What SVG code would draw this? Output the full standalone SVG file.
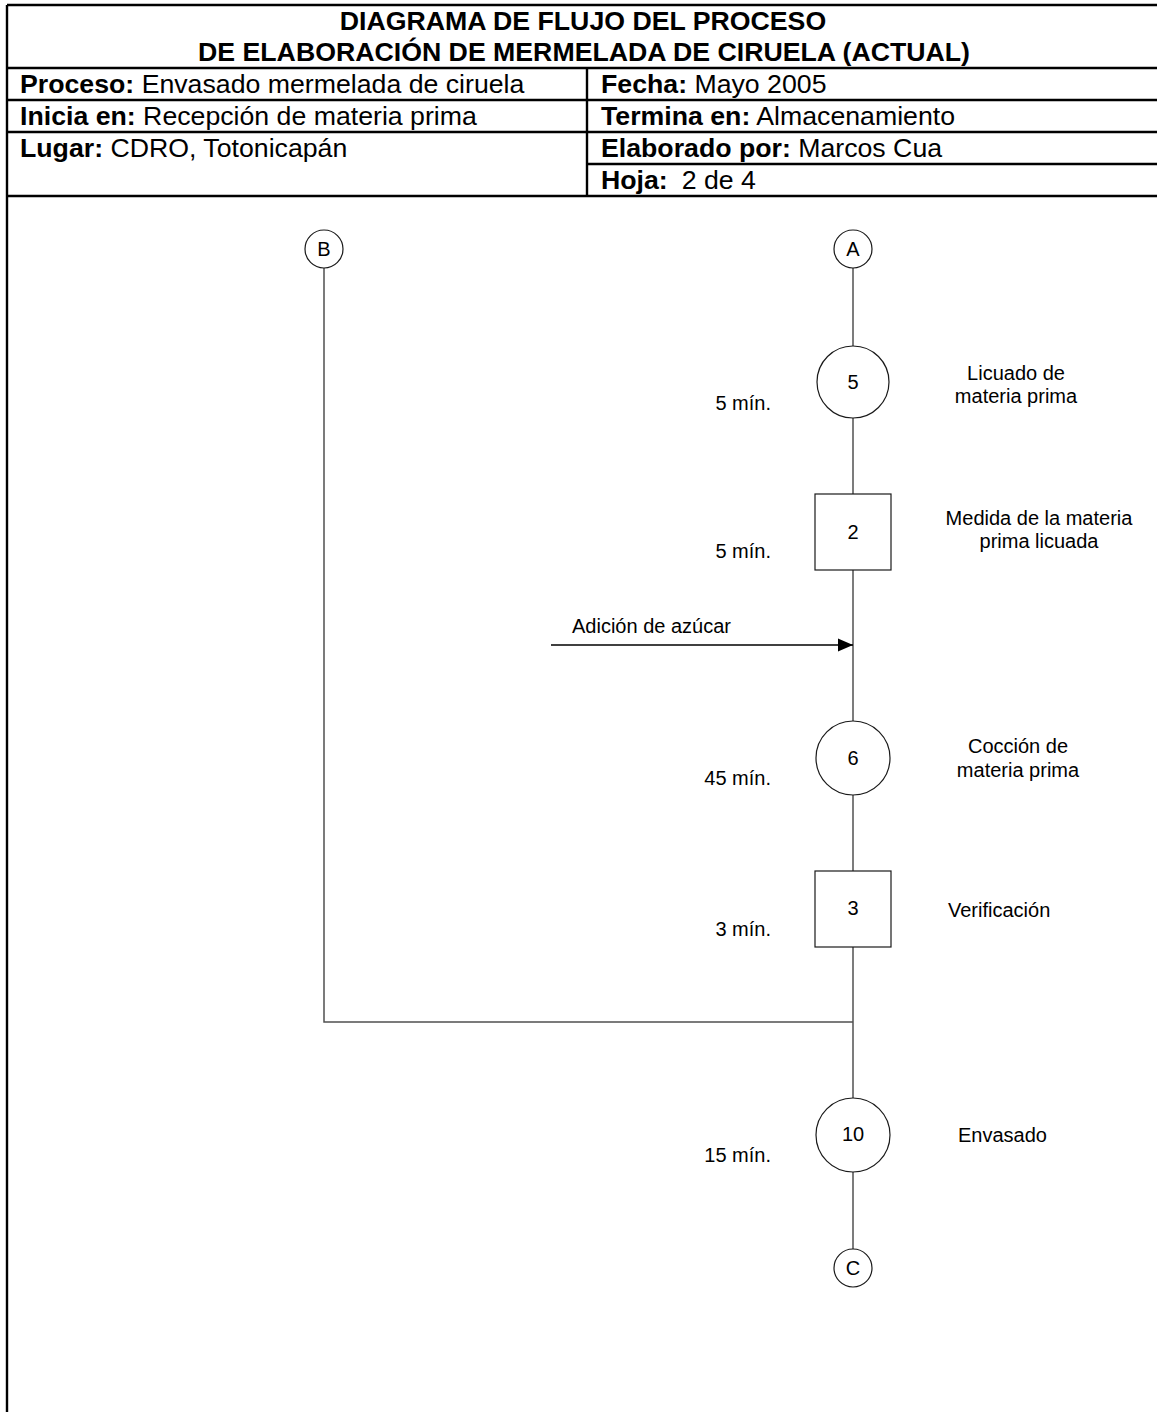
<svg xmlns="http://www.w3.org/2000/svg" width="1157" height="1412" viewBox="0 0 1157 1412">
<style>
.frame{stroke:#000;stroke-width:2.4;fill:none}
.th{font-family:"Liberation Sans",Arial,sans-serif;font-size:26.7px;fill:#000}
.b{font-weight:bold}
.conn{stroke:#505050;stroke-width:1.5;fill:none}
.shape{stroke:#1a1a1a;stroke-width:1.2;fill:#fff}
.lbl{font-family:"Liberation Sans",Arial,sans-serif;font-size:20px;fill:#000}
.num{font-family:"Liberation Sans",Arial,sans-serif;font-size:20px;fill:#000;text-anchor:middle}
.time{font-family:"Liberation Sans",Arial,sans-serif;font-size:20px;fill:#000;text-anchor:end}
.mid{text-anchor:middle}
</style>
<defs>
<marker id="arr" markerWidth="16" markerHeight="14" refX="15" refY="7" orient="auto" markerUnits="userSpaceOnUse">
<path d="M0,0.5 L15,7 L0,13.5 Z" fill="#000"/>
</marker>
</defs>
<rect width="1157" height="1412" fill="#fff"/>
<g id="header">
<line class="frame" x1="7" y1="5" x2="1157" y2="5"/>
<line class="frame" x1="7" y1="5" x2="7" y2="1412"/>
<line class="frame" x1="7" y1="68" x2="1157" y2="68"/>
<line class="frame" x1="7" y1="100" x2="1157" y2="100"/>
<line class="frame" x1="7" y1="132" x2="1157" y2="132"/>
<line class="frame" x1="587" y1="164" x2="1157" y2="164"/>
<line class="frame" x1="7" y1="196" x2="1157" y2="196"/>
<line class="frame" x1="587" y1="68" x2="587" y2="196"/>
<text class="th b mid" x="583" y="30">DIAGRAMA DE FLUJO DEL PROCESO</text>
<text class="th b mid" x="584" y="61">DE ELABORACIÓN DE MERMELADA DE CIRUELA (ACTUAL)</text>
<text class="th" x="20" y="92.5"><tspan class="b">Proceso:</tspan> Envasado mermelada de ciruela</text>
<text class="th" x="20" y="124.5"><tspan class="b">Inicia en:</tspan> Recepción de materia prima</text>
<text class="th" x="20" y="156.5"><tspan class="b">Lugar:</tspan> CDRO, Totonicapán</text>
<text class="th" x="601" y="92.5"><tspan class="b">Fecha:</tspan> Mayo 2005</text>
<text class="th" x="601" y="124.5"><tspan class="b">Termina en:</tspan> Almacenamiento</text>
<text class="th" x="601" y="156.5"><tspan class="b">Elaborado por:</tspan> Marcos Cua</text>
<text class="th" x="601" y="188.5"><tspan class="b">Hoja:</tspan><tspan dx="14">2 de 4</tspan></text>
</g>
<g id="connectors">
<line class="conn" x1="853" y1="268" x2="853" y2="346"/>
<line class="conn" x1="853" y1="418" x2="853" y2="494"/>
<line class="conn" x1="853" y1="570" x2="853" y2="721"/>
<line class="conn" x1="853" y1="795" x2="853" y2="871"/>
<line class="conn" x1="853" y1="947" x2="853" y2="1098"/>
<line class="conn" x1="853" y1="1172" x2="853" y2="1249"/>
<polyline class="conn" points="324,268 324,1022 853,1022"/>
<line x1="551" y1="645" x2="853" y2="645" stroke="#000" stroke-width="1.3" marker-end="url(#arr)"/>
<text class="lbl" x="572" y="633">Adición de azúcar</text>
</g>
<g id="nodeB">
<circle class="shape" cx="324" cy="249" r="19"/>
<text class="num" x="324" y="256">B</text>
</g>
<g id="nodeA">
<circle class="shape" cx="853" cy="249" r="19"/>
<text class="num" x="853" y="256">A</text>
</g>
<g id="node5">
<circle class="shape" cx="853" cy="382" r="36"/>
<text class="num" x="853" y="389">5</text>
<text class="time" x="771" y="410">5 mín.</text>
<text class="lbl mid" x="1016" y="380">Licuado de</text>
<text class="lbl mid" x="1016" y="403">materia prima</text>
</g>
<g id="node2">
<rect class="shape" x="815" y="494" width="76" height="76"/>
<text class="num" x="853" y="539">2</text>
<text class="time" x="771" y="558">5 mín.</text>
<text class="lbl mid" x="1039" y="525">Medida de la materia</text>
<text class="lbl mid" x="1039" y="548">prima licuada</text>
</g>
<g id="node6">
<circle class="shape" cx="853" cy="758" r="37"/>
<text class="num" x="853" y="765">6</text>
<text class="time" x="771" y="785">45 mín.</text>
<text class="lbl mid" x="1018" y="753">Cocción de</text>
<text class="lbl mid" x="1018" y="777">materia prima</text>
</g>
<g id="node3">
<rect class="shape" x="815" y="871" width="76" height="76"/>
<text class="num" x="853" y="915">3</text>
<text class="time" x="771" y="936">3 mín.</text>
<text class="lbl" x="948" y="917">Verificación</text>
</g>
<g id="node10">
<circle class="shape" cx="853" cy="1135" r="37"/>
<text class="num" x="853" y="1141">10</text>
<text class="time" x="771" y="1162">15 mín.</text>
<text class="lbl" x="958" y="1142">Envasado</text>
</g>
<g id="nodeC">
<circle class="shape" cx="853" cy="1268" r="19"/>
<text class="num" x="853" y="1275">C</text>
</g>
</svg>
